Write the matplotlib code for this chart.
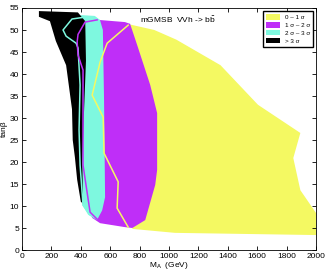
import numpy as np
import matplotlib; matplotlib.use("Agg"); import matplotlib.pyplot as plt

plt.rcParams['font.family'] = ['Liberation Sans', 'DejaVu Sans']

# significance regions in (M_A [GeV], tan beta)
yel_m = [715, 900, 1050, 1350, 1605, 1893, 1845, 1893, 2000, 2000, 1040, 750, 800, 800]
yel_tb = [51.4, 50.0, 47.8, 42, 33, 26.6, 20.9, 13.6, 8.4, 3.4, 3.9, 4.8, 11.4, 43]
pur_m = [430, 518, 700, 735, 783, 872, 919, 919, 906, 838, 750, 700, 531, 477, 429, 415]
pur_tb = [51.8, 52.3, 51.8, 51.4, 46.6, 37.5, 31.1, 18.2, 14.8, 6.8, 5.0, 5.2, 6.1, 7.3, 11.4, 34]
cyn_m = [395, 495, 530, 550, 558, 565, 545, 510, 450, 410, 395, 395]
cyn_tb = [53.4, 53.2, 52.3, 50, 34, 12, 9, 6.8, 8, 10.2, 23, 43]
blk_m = [115, 380, 430, 435, 420, 410, 415, 400, 375, 360, 345, 340, 300, 230, 190, 115]
blk_tb = [54.3, 54, 52, 43, 30, 20, 10.5, 11, 16, 21, 25, 32, 42, 47.5, 52, 53]

# contour lines
cl_m = [443, 340, 279, 300, 368, 381, 395, 388, 395, 415, 463]
cl_tb = [53, 52.5, 50, 48.6, 47, 45.9, 37.5, 27.3, 19.3, 10.2, 8]
pl_m = [511, 429, 381, 375, 381, 415, 415, 415, 463, 511]
pl_tb = [52.3, 51.8, 49, 47.3, 44.3, 40.9, 29.5, 19.3, 8.6, 7]
yl_m = [722, 579, 531, 477, 552, 558, 654, 647, 722]
yl_tb = [51.1, 47, 42.7, 35.2, 30.2, 22, 15.5, 9.5, 5.2]

labels = ["0 – 1 σ", "1 σ – 2 σ", "2 σ – 3 σ", "> 3 σ"]
YEL, PUR, CYN, BLK = "#f4f962", "#bf2ef8", "#7ef8df", "#000000"

fig = plt.figure(figsize=(3.27, 2.73), dpi=100)
ax = fig.add_axes([0.0673, 0.0842, 0.8993, 0.8865])
ax.fill(yel_m, yel_tb, color=YEL, lw=0, label=labels[0])
ax.fill(pur_m, pur_tb, color=PUR, lw=0, label=labels[1])
ax.fill(cyn_m, cyn_tb, color=CYN, lw=0, label=labels[2])
ax.fill(blk_m, blk_tb, color=BLK, lw=0, label=labels[3])
ax.plot(cl_m, cl_tb, color=CYN, lw=1.1)
ax.plot(pl_m, pl_tb, color=PUR, lw=1.1)
ax.plot(yl_m, yl_tb, color=YEL, lw=1.1)

ax.set_xlim(0, 2000); ax.set_ylim(0, 55)
ax.set_xticks(np.arange(0, 2001, 200)); ax.set_yticks(np.arange(0, 56, 5))
ax.tick_params(direction="in", top=True, right=True, labelsize=6, length=3, width=0.6, pad=2)
for s in ax.spines.values():
    s.set_linewidth(0.6)
ax.set_xlabel("M$_\\mathregular{A}$  (GeV)", fontsize=6, labelpad=0)
ax.set_ylabel("tanβ", fontsize=6, labelpad=1)
ax.text(800, 51.5, "mGMSB  VVh -> b$\\bar{\\mathregular{b}}$", fontsize=6)
ax.legend(loc="upper right", fontsize=4.5, handlelength=2.2, handleheight=1.0, borderpad=0.5,
          labelspacing=0.3, fancybox=False, edgecolor="black", framealpha=1,
          bbox_to_anchor=(1.0, 1.0))
fig.savefig("out.png", dpi=100)
